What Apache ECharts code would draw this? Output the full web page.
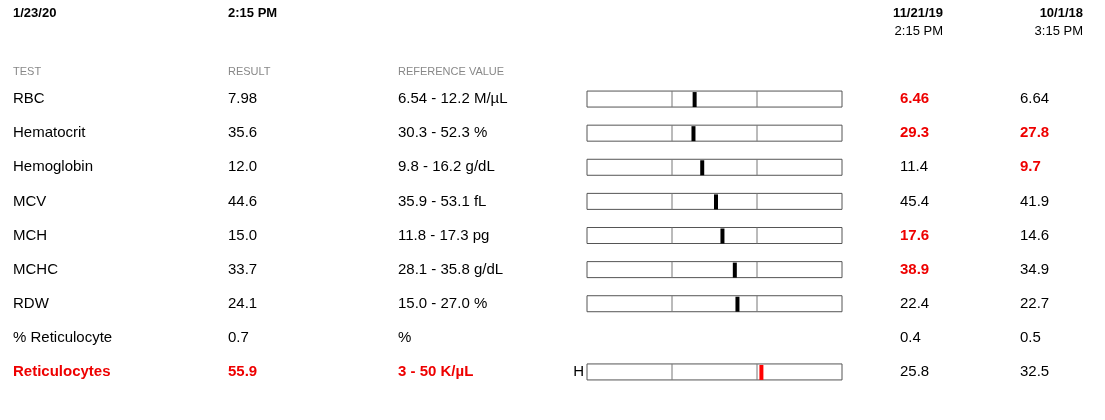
<!DOCTYPE html>
<html><head><meta charset="utf-8">
<script src="https://cdn.jsdelivr.net/npm/echarts@6/dist/echarts.min.js"></script>
<style>html,body{margin:0;background:#fff}#c{width:1105px;height:420px}</style>
</head><body><div id="c"></div>
<script>
const tests = ['RBC','Hematocrit','Hemoglobin','MCV','MCH','MCHC','RDW','% Reticulocyte','Reticulocytes'];
const results = ['7.98','35.6','12.0','44.6','15.0','33.7','24.1','0.7','55.9'];
const refText = ['6.54 - 12.2 M/µL','30.3 - 52.3 %','9.8 - 16.2 g/dL','35.9 - 53.1 fL','11.8 - 17.3 pg','28.1 - 35.8 g/dL','15.0 - 27.0 %','%','3 - 50 K/µL'];
const refLow = [6.54,30.3,9.8,35.9,11.8,28.1,15.0,null,3];
const refHigh = [12.2,52.3,16.2,53.1,17.3,35.8,27.0,null,50];
const flags = ['','','','','','','','','H'];
const prev1 = ['6.46','29.3','11.4','45.4','17.6','38.9','22.4','0.4','25.8'];
const prev1Flag = [1,1,0,0,1,1,0,0,0];
const prev2 = ['6.64','27.8','9.7','41.9','14.6','34.9','22.7','0.5','32.5'];
const prev2Flag = [0,1,1,0,0,0,0,0,0];

const FONT = 'Liberation Sans, Arial, sans-serif';
const data = tests.map((t,i)=>[i]);
const chart = echarts.init(document.getElementById('c'));
function txt(x,y,s,opt){return {type:'text',x:x,y:y,style:Object.assign({text:s,fill:'#000',font:'15px '+FONT,textVerticalAlign:'middle'},opt||{})};}
chart.setOption({
  animation:false,
  grid:{left:587,width:255,top:82,height:307},
  xAxis:{type:'value',min:0,max:3,show:false},
  yAxis:{type:'category',data:tests,inverse:true,show:false},
  graphic:[
    txt(13,13,'1/23/20',{font:'bold 13px '+FONT}),
    txt(228,13,'2:15 PM',{font:'bold 13px '+FONT}),
    txt(943,13,'11/21/19',{font:'bold 13px '+FONT,textAlign:'right'}),
    txt(943,31,'2:15 PM',{font:'13px '+FONT,textAlign:'right'}),
    txt(1083,13,'10/1/18',{font:'bold 13px '+FONT,textAlign:'right'}),
    txt(1083,31,'3:15 PM',{font:'13px '+FONT,textAlign:'right'}),
    txt(13,72,'TEST',{font:'11px '+FONT,fill:'#888'}),
    txt(228,72,'RESULT',{font:'11px '+FONT,fill:'#888'}),
    txt(398,72,'REFERENCE VALUE',{font:'11px '+FONT,fill:'#888'})
  ],
  series:[{
    type:'custom',data:data,
    renderItem:function(params,api){
      const i=api.value(0);
      const p0=api.coord([0,i]), p3=api.coord([3,i]);
      const y=p0[1];
      const red = flags[i]!=='';
      const rowStyle = red?{fill:'#e00',font:'bold 15px '+FONT}:{};
      const ch=[
        txt(13,y,tests[i],rowStyle),
        txt(228,y,results[i],rowStyle),
        txt(398,y,refText[i],rowStyle),
        txt(900,y,prev1[i],prev1Flag[i]?{fill:'#e00',font:'bold 15px '+FONT}:{}),
        txt(1020,y,prev2[i],prev2Flag[i]?{fill:'#e00',font:'bold 15px '+FONT}:{})
      ];
      if(refLow[i]!=null){
        const h=16;
        if(flags[i]) ch.push(txt(p0[0]-3,y,flags[i],{textAlign:'right'}));
        ch.push({type:'rect',shape:{x:p0[0],y:y-h/2,width:p3[0]-p0[0],height:h},style:{fill:'#fff',stroke:'#555',lineWidth:1}});
        [1,2].forEach(k=>{const pk=api.coord([k,i]);ch.push({type:'line',shape:{x1:pk[0],y1:y-h/2,x2:pk[0],y2:y+h/2},style:{stroke:'#777',lineWidth:1}});});
        let v=1+(parseFloat(results[i])-refLow[i])/(refHigh[i]-refLow[i]);
        if(v>2) v=2.04; else if(v<1) v=0.96;
        const pm=api.coord([v,i]);
        ch.push({type:'rect',shape:{x:pm[0]-1,y:y-h/2+1,width:4,height:h-1},style:{fill:red?'#f00':'#000'}});
      }
      return {type:'group',children:ch};
    }
  }]
});
</script></body></html>
